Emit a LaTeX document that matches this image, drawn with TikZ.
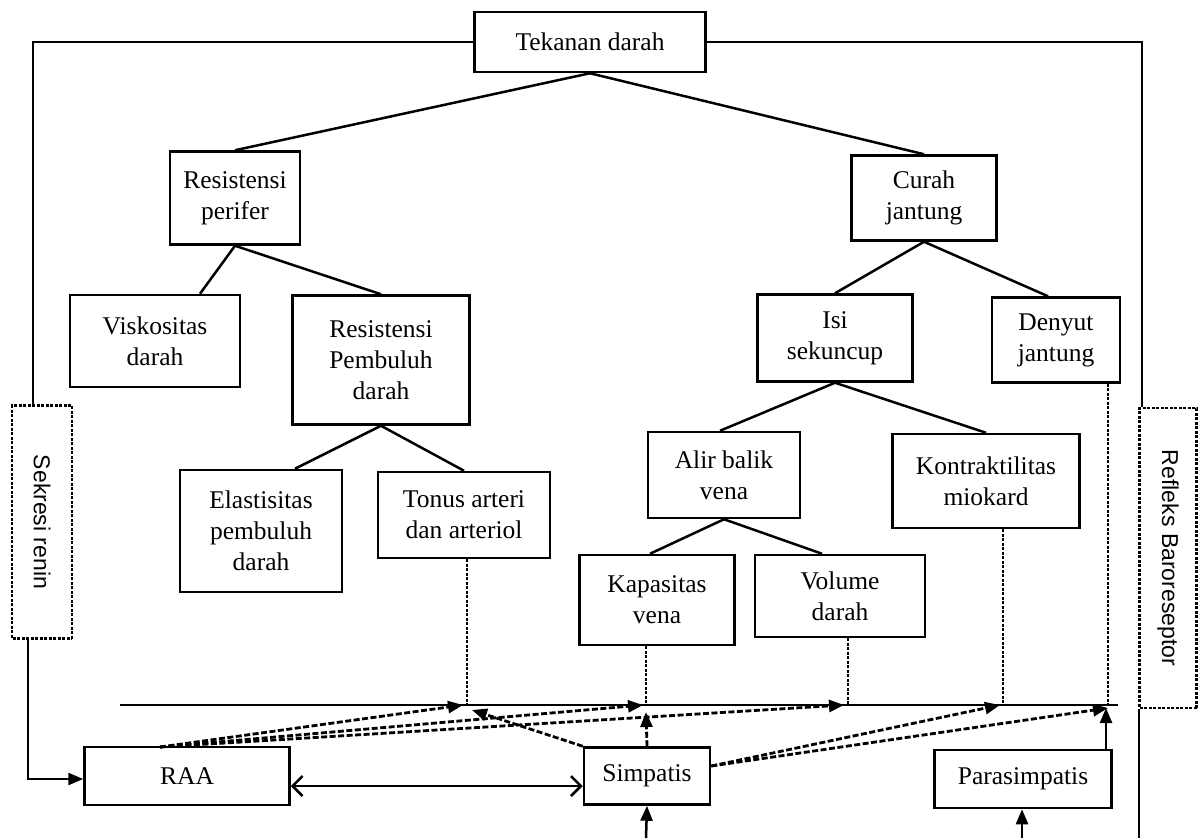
\documentclass[tikz,border=0pt]{standalone}
\usepackage{fontspec}
\setmainfont{Liberation Serif}
\setsansfont{Liberation Sans}
\usetikzlibrary{arrows.meta}
\begin{document}
\begin{tikzpicture}[x=1pt,y=-1pt,
  box/.style={draw, line width=2.5pt, align=center, inner sep=0pt,
    font=\fontsize{25.5}{31}\selectfont},
  sidebox/.style={draw, line width=2.4pt, dash pattern=on 3pt off 1.5pt, inner sep=0pt,
    font=\sffamily\fontsize{23}{28}\selectfont},
  link/.style={line width=2.5pt},
  dlink/.style={line width=2.8pt, dash pattern=on 6pt off 2.5pt},
  dvert/.style={line width=2.2pt, dash pattern=on 3pt off 1.5pt},
  tip/.style={-{Triangle[length=15pt,width=12pt]}},
]
\useasboundingbox (0,0) rectangle (1198,838);

% main boxes
\node[box, minimum width=231pt, minimum height=60pt] (td)  at (590,42)  {Tekanan darah};
\node[box, minimum width=130pt, minimum height=93pt] (rp)  at (235,198) {Resistensi\\perifer};
\node[box, minimum width=145pt, minimum height=85pt] (cj)  at (924,198) {Curah\\jantung};
\node[box, minimum width=170pt, minimum height=92pt] (vis) at (155,341) {Viskositas\\darah};
\node[box, minimum width=177pt, minimum height=129pt] (rpd) at (381,360) {Resistensi\\Pembuluh\\darah};
\node[box, minimum width=155pt, minimum height=87pt] (isi) at (835,338) {Isi\\sekuncup};
\node[box, minimum width=128pt, minimum height=85pt] (dj)  at (1056,340) {Denyut\\jantung};
\node[box, minimum width=162pt, minimum height=122pt] (el) at (261,531) {Elastisitas\\pembuluh\\darah};
\node[box, minimum width=172pt, minimum height=86pt] (ton) at (464,515) {Tonus arteri\\dan arteriol};
\node[box, minimum width=152pt, minimum height=86pt] (alir) at (724,475) {Alir balik\\vena};
\node[box, minimum width=187pt, minimum height=94pt] (kon) at (986,481) {Kontraktilitas\\miokard};
\node[box, minimum width=155pt, minimum height=90pt] (kap) at (657,600) {Kapasitas\\vena};
\node[box, minimum width=170pt, minimum height=82pt] (vol) at (840,596) {Volume\\darah};

\node[box, minimum width=205pt, minimum height=58pt] (raa) at (187,776)  {RAA};
\node[box, minimum width=126pt, minimum height=57pt] (sim) at (647,776)  {Simpatis};
\node[box, minimum width=177pt, minimum height=58pt] (par) at (1023,779) {Parasimpatis};

% side boxes with vertical text (west = top end, east = bottom end)
\node[sidebox, minimum width=233pt, minimum height=60pt, rotate=-90] (sr) at (42,522) {Sekresi renin};
\node[sidebox, minimum width=300pt, minimum height=57pt, rotate=-90] (rb) at (1168,558) {Refleks Baroreseptor};

% tree connectors
\draw[link] (td.south) -- (rp.north);
\draw[link] (td.south) -- (cj.north);
\draw[link] (rp.south) -- ([xshift=45pt]vis.north);
\draw[link] (rp.south) -- (rpd.north);
\draw[link] (rpd.south) -- ([xshift=34pt]el.north);
\draw[link] (rpd.south) -- (ton.north);
\draw[link] (cj.south) -- (isi.north);
\draw[link] (cj.south) -- ([xshift=-8pt]dj.north);
\draw[link] (isi.south) -- ([xshift=-4pt]alir.north);
\draw[link] (isi.south) -- (kon.north);
\draw[link] (alir.south) -- ([xshift=-7pt]kap.north);
\draw[link] (alir.south) -- ([xshift=-18pt]vol.north);

% feedback loops
\draw[link] (td.west) -| ([xshift=-9pt]sr.west);
\draw[link, tip] ([xshift=-14pt]sr.east) |- ([yshift=-3pt]raa.west);
\draw[link] (td.east) -| ([xshift=-26pt]rb.west);
\coordinate (rbend) at (1139,838);
\draw[link] ([xshift=-29pt]rb.east) -- (rbend);

% effector line
\coordinate (hl) at (120,705);
\coordinate (hr) at (1118,705);
\coordinate (j1) at (467,705);
\coordinate (j2) at (646,705);
\coordinate (j3) at (848,705);
\coordinate (j4) at (1003,705);
\coordinate (j5) at (1108,705);
\draw[link] (hl) -- (hr);

% dashed drops to the effector line
\draw[dvert] (j1 |- ton.south) -- (j1);
\draw[dvert] (j2 |- kap.south) -- (j2);
\draw[dvert] (j3 |- vol.south) -- (j3);
\draw[dvert] (j4 |- kon.south) -- (j4);
\draw[dvert] (j5 |- dj.south) -- (j5);

% RAA influences
\coordinate (raatop) at (160,747);
\draw[dlink, tip] (raatop) -- ([xshift=-4pt]j1);
\draw[dlink, tip] (raatop) -- ([xshift=-3pt]j2);
\draw[dlink, tip] (raatop) -- ([xshift=-4pt]j3);

% sympathetic influences
\coordinate (simup) at (646,712);
\coordinate (simleft) at (472,710);
\draw[dlink, tip] (sim.north) -- (simup);
\draw[dlink, tip] (sim.north west) -- (simleft);
\draw[dlink, tip] ([yshift=10pt]sim.east) -- ([xshift=-3pt]j4);
\draw[dlink, tip] ([yshift=10pt]sim.east) -- ([yshift=-3pt]j5);

% parasympathetic influence
\draw[link, tip] ([xshift=-2pt]j5 |- par.north) -- ([xshift=-2pt,yshift=-3pt]j5);

% RAA <-> Simpatis
\draw[link, {Straight Barb[length=10pt,width=20pt]}-{Straight Barb[length=10pt,width=20pt]}]
  ([yshift=-10pt]raa.east) -- ([yshift=-10pt]sim.west);

% inputs from below
\coordinate (simin) at (646,838);
\coordinate (parin) at (1022,838);
\draw[link, tip] (simin) -- (sim.south);
\draw[link, tip] (parin) -- (par.south -| parin);
\end{tikzpicture}
\end{document}
